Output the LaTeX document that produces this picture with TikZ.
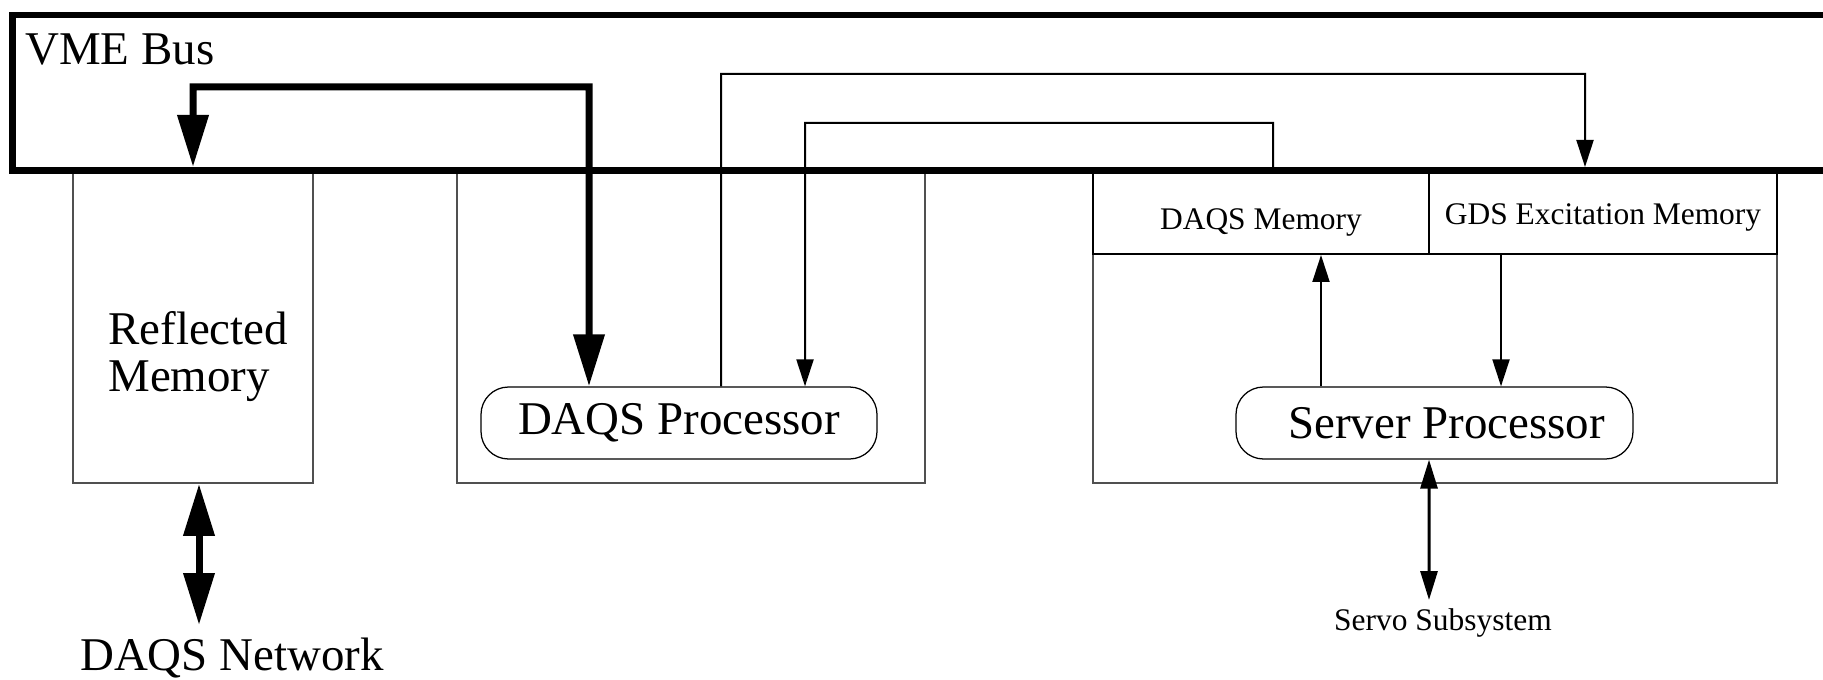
\documentclass[tikz,border=0pt]{standalone}
\usepackage{fontspec}
\setmainfont{Liberation Serif}
\usepackage{tikz}
\usetikzlibrary{arrows.meta}
\definecolor{edge}{HTML}{505050}

\begin{document}
\begin{tikzpicture}[
  big/.style={font=\fontsize{26.7}{27}\selectfont},
  small/.style={font=\fontsize{17.9}{19}\selectfont},
  unit/.style={draw=edge,line width=0.035cm,minimum height=6.25cm,inner sep=0pt},
  cell/.style={draw,line width=0.04cm,minimum height=1.67cm,inner sep=0pt,small},
  proc/.style={draw,line width=0.025cm,rounded corners=0.55cm,minimum height=1.44cm,inner sep=0pt,big},
  bus/.style={line width=0.13cm,line join=miter},
  fat/.style={line width=0.14cm,line join=miter,{Triangle[length=1.04cm,width=0.6cm]}-{Triangle[length=1.04cm,width=0.6cm]}},
  arr/.style={line width=0.04cm,-{Triangle[length=0.54cm,width=0.34cm]}},
  dbl/.style={line width=0.06cm,{Triangle[length=0.58cm,width=0.34cm]}-{Triangle[length=0.58cm,width=0.34cm]}}]
\useasboundingbox (0,0) rectangle (36.46,-13.6);

% boards on the bus
\node[unit,minimum width=4.8cm] (rmbox) at (3.86,-6.535) {};
\node[unit,minimum width=9.36cm] (daqsbox) at (13.82,-6.535) {};
\node[unit,minimum width=13.68cm] (srvbox) at (28.70,-6.535) {};
\node[big,anchor=north west,align=left,inner sep=0pt] (rmtext) at (2.16,-6.22) {Reflected\\Memory};

\node[cell,minimum width=6.72cm,text height=0.85cm,text depth=0.14cm] (dmem) at (25.22,-4.245) {DAQS Memory};
\node[cell,minimum width=6.96cm,text height=0.61cm,text depth=0.14cm] (gmem) at (32.06,-4.245) {GDS Excitation Memory};

\node[proc,minimum width=7.92cm] (daqsproc) at (13.58,-8.46) {DAQS Processor};
\node[proc,minimum width=7.94cm] (srvproc) at (28.69,-8.46) {\hspace*{0.48cm}Server Processor};

% the bus
\draw[bus] (36.6,-0.30) -- (0.254,-0.30) -- (0.254,-3.41) -- (36.6,-3.41);
\node[big,anchor=base west,inner sep=0pt] (vme) at (0.5,-1.3) {VME Bus};

\coordinate (busRM) at (3.86,-3.34);
\coordinate (busGDS) at (31.70,-3.34);
\coordinate (busDM) at (25.46,-3.41);

\draw[fat] (busRM) -- (3.86,-1.74) -- (11.78,-1.74) -- ([xshift=-1.8cm]daqsproc.north);
\draw[arr] ([xshift=0.84cm]daqsproc.north) -- (14.42,-1.48) -- (31.70,-1.48) -- (busGDS);
\draw[arr] (busDM) -- (25.46,-2.46) -- (16.10,-2.46) -- ([xshift=2.52cm]daqsproc.north);

\coordinate (dtap) at ([xshift=-2.27cm]srvproc.north);
\coordinate (gtap) at ([xshift=1.33cm]srvproc.north);
\draw[arr] (dtap) -- (dtap |- dmem.south);
\draw[arr] (gtap |- gmem.south) -- (gtap);

% outside links
\node[big,anchor=base,inner sep=0pt] (net) at (4.64,-13.40) {DAQS Network};
\node[small,anchor=base,inner sep=0pt] (servo) at (28.86,-12.6) {Servo Subsystem};
\coordinate (rmtap) at ([xshift=0.12cm]rmbox.south);
\coordinate (netTip) at (3.98,-12.5);
\coordinate (srvtap) at ([xshift=-0.11cm]srvproc.south);
\coordinate (servoTip) at (28.58,-12.0);
\draw[fat] (rmtap) -- (netTip);
\draw[dbl] (srvtap) -- (servoTip);
\end{tikzpicture}
\end{document}
